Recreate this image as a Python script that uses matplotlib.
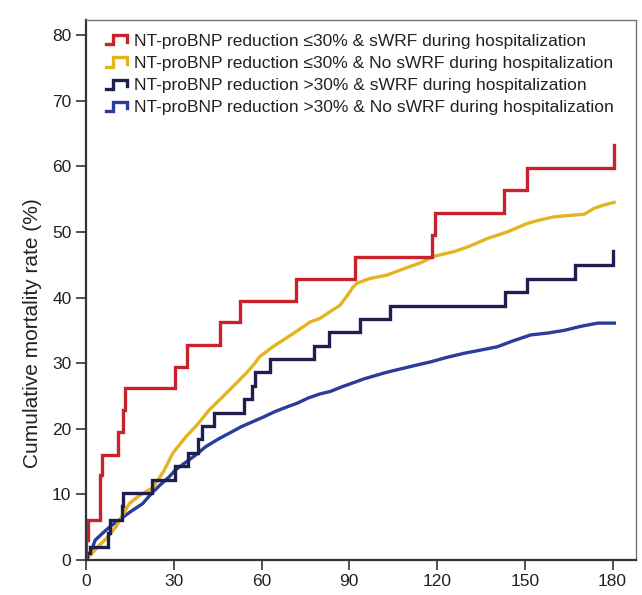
import matplotlib
matplotlib.use("Agg")
import matplotlib.pyplot as plt
from matplotlib.lines import Line2D
from matplotlib.legend_handler import HandlerBase

plt.rcParams['font.family'] = ['Liberation Sans', 'DejaVu Sans']

# Red: NT-proBNP reduction <=30% & sWRF (step curve)
red_t = [0, 0.8, 4.8, 5.5, 11, 12.5, 13.4, 30.5, 34.5, 45.9, 52.7, 71.8, 92.1, 118.4, 119.2, 143, 150.7, 180.4]
red_y = [3.0, 6.1, 12.9, 16.0, 19.5, 22.9, 26.2, 29.4, 32.8, 36.2, 39.4, 42.8, 46.2, 49.5, 52.9, 56.4, 59.8, 63.2]

# Yellow: NT-proBNP reduction <=30% & No sWRF (many small steps, read as a curve)
yel_t = [0, 4, 7, 10.3, 14.8, 18.5, 22.8, 26.5, 29.7, 34.2, 38, 42.2, 47.9, 51.5, 54.8, 57, 59.4, 63.9, 70.8,
         76.7, 79.9, 84.6, 86.8, 89.3, 91.3, 92.7, 97, 102.7, 108.7, 114.4, 119, 125.8, 131, 137.2, 144,
         150.9, 155, 160, 165, 170.3, 173.7, 177, 180.5]
yel_y = [0, 2.0, 3.3, 5.1, 8.6, 9.9, 11.0, 13.5, 16.3, 18.8, 20.6, 22.9, 25.4, 27.0, 28.5, 29.6, 31.0, 32.5,
         34.5, 36.3, 36.8, 38.2, 38.8, 40.3, 41.6, 42.2, 42.9, 43.4, 44.4, 45.3, 46.3, 47.0, 47.8, 49.0,
         50.0, 51.3, 51.8, 52.3, 52.5, 52.7, 53.6, 54.1, 54.5]

# Navy: NT-proBNP reduction >30% & sWRF (step curve)
nav_t = [0.5, 1.5, 7.5, 8.2, 12.2, 12.5, 22.5, 30.5, 35, 38.4, 39.6, 43.6, 53.9, 56.7, 57.9, 63, 77.9, 83,
         93.8, 104, 143.2, 150.7, 167, 180]
nav_y = [1.0, 2.0, 4.1, 6.1, 8.2, 10.2, 12.2, 14.3, 16.3, 18.4, 20.4, 22.4, 24.5, 26.5, 28.6, 30.6, 32.6,
         34.7, 36.7, 38.7, 40.8, 42.8, 44.9, 47.1]

# Blue: NT-proBNP reduction >30% & No sWRF (many small steps, read as a curve)
blu_t = [0, 2, 3.1, 5.7, 8.8, 11.4, 15, 19.4, 22.5, 25.5, 28.5, 30.5, 33.5, 37.5, 41, 45.5, 49.3, 53, 57.1,
         60.7, 64.5, 68.5, 72.2, 76, 79.9, 83.6, 87.5, 91.3, 95, 98.8, 102.7, 106.4, 112, 117.8, 123.5,
         129.2, 135, 140.6, 146, 152, 158, 163.5, 169, 174.9, 180.6]
blu_y = [0, 1.6, 3.0, 4.1, 5.3, 6.1, 7.3, 8.6, 10.2, 11.5, 12.7, 13.7, 14.7, 16.0, 17.3, 18.5, 19.4, 20.3,
         21.1, 21.8, 22.6, 23.3, 23.9, 24.7, 25.3, 25.7, 26.4, 27.0, 27.6, 28.1, 28.6, 29.0, 29.6, 30.2,
         30.9, 31.5, 32.0, 32.5, 33.4, 34.3, 34.6, 35.0, 35.6, 36.1, 36.1]

labels = [
    "NT-proBNP reduction \u226430% & sWRF during hospitalization",
    "NT-proBNP reduction \u226430% & No sWRF during hospitalization",
    "NT-proBNP reduction >30% & sWRF during hospitalization",
    "NT-proBNP reduction >30% & No sWRF during hospitalization",
]
colors = ["#c8232c", "#e3b420", "#1f1f4f", "#2a3c9c"]
xticks = [0, 30, 60, 90, 120, 150, 180]
yticks = [0, 10, 20, 30, 40, 50, 60, 70, 80]


class StepHandler(HandlerBase):
    def create_artists(self, legend, orig_handle, xdescent, ydescent, width, height, fontsize, trans):
        x0 = -xdescent
        y0 = -ydescent
        xs = [x0, x0 + 0.35 * width, x0 + 0.35 * width, x0 + width, x0 + width]
        ys = [y0 + 0.1 * height, y0 + 0.1 * height, y0 + 0.85 * height, y0 + 0.85 * height, y0 + 0.3 * height]
        ln = Line2D(xs, ys, color=orig_handle.get_color(), lw=orig_handle.get_linewidth(),
                    solid_joinstyle='miter')
        ln.set_transform(trans)
        return [ln]


fig = plt.figure(figsize=(6.42, 5.95), dpi=100)
ax = fig.add_axes([86 / 642, (595 - 560) / 595, (636 - 86) / 642, (560 - 20) / 595])

handles = [None] * 4
(h,) = ax.plot(blu_t, blu_y, color=colors[3], lw=2.4)
handles[3] = h
(h,) = ax.plot(yel_t, yel_y, color=colors[1], lw=2.4)
handles[1] = h
(h,) = ax.step([0] + nav_t, [0] + nav_y, where='post', color=colors[2], lw=2.4, solid_joinstyle='miter')
handles[2] = h
(h,) = ax.step([0] + red_t, [0] + red_y, where='post', color=colors[0], lw=2.4, solid_joinstyle='miter')
handles[0] = h

ax.set_xlim(0, 188)
ax.set_ylim(0, 82.3)
ax.set_xticks(xticks)
ax.set_yticks(yticks)
ax.tick_params(axis='both', labelsize=12.5, length=7, width=1.2, color='#333333', labelcolor='#222222')
ax.tick_params(axis='x', pad=3)
for s in ['left', 'bottom']:
    ax.spines[s].set_linewidth(1.6)
    ax.spines[s].set_color('#333333')
for s in ['top', 'right']:
    ax.spines[s].set_linewidth(1.0)
    ax.spines[s].set_color('#777777')

ax.set_ylabel("Cumulative mortality rate (%)", fontsize=15, color='#222222')
ax.yaxis.set_label_coords(-0.08, 0.42)

leg = ax.legend(handles, labels, loc='upper left', bbox_to_anchor=(0.036, 0.975), frameon=False,
                fontsize=12.5, handlelength=1.2, handletextpad=0.45, labelspacing=0.4,
                borderaxespad=0, borderpad=0,
                handler_map={Line2D: StepHandler()})
for txt in leg.get_texts():
    txt.set_color('#222222')

fig.savefig("out.png", dpi=100)
